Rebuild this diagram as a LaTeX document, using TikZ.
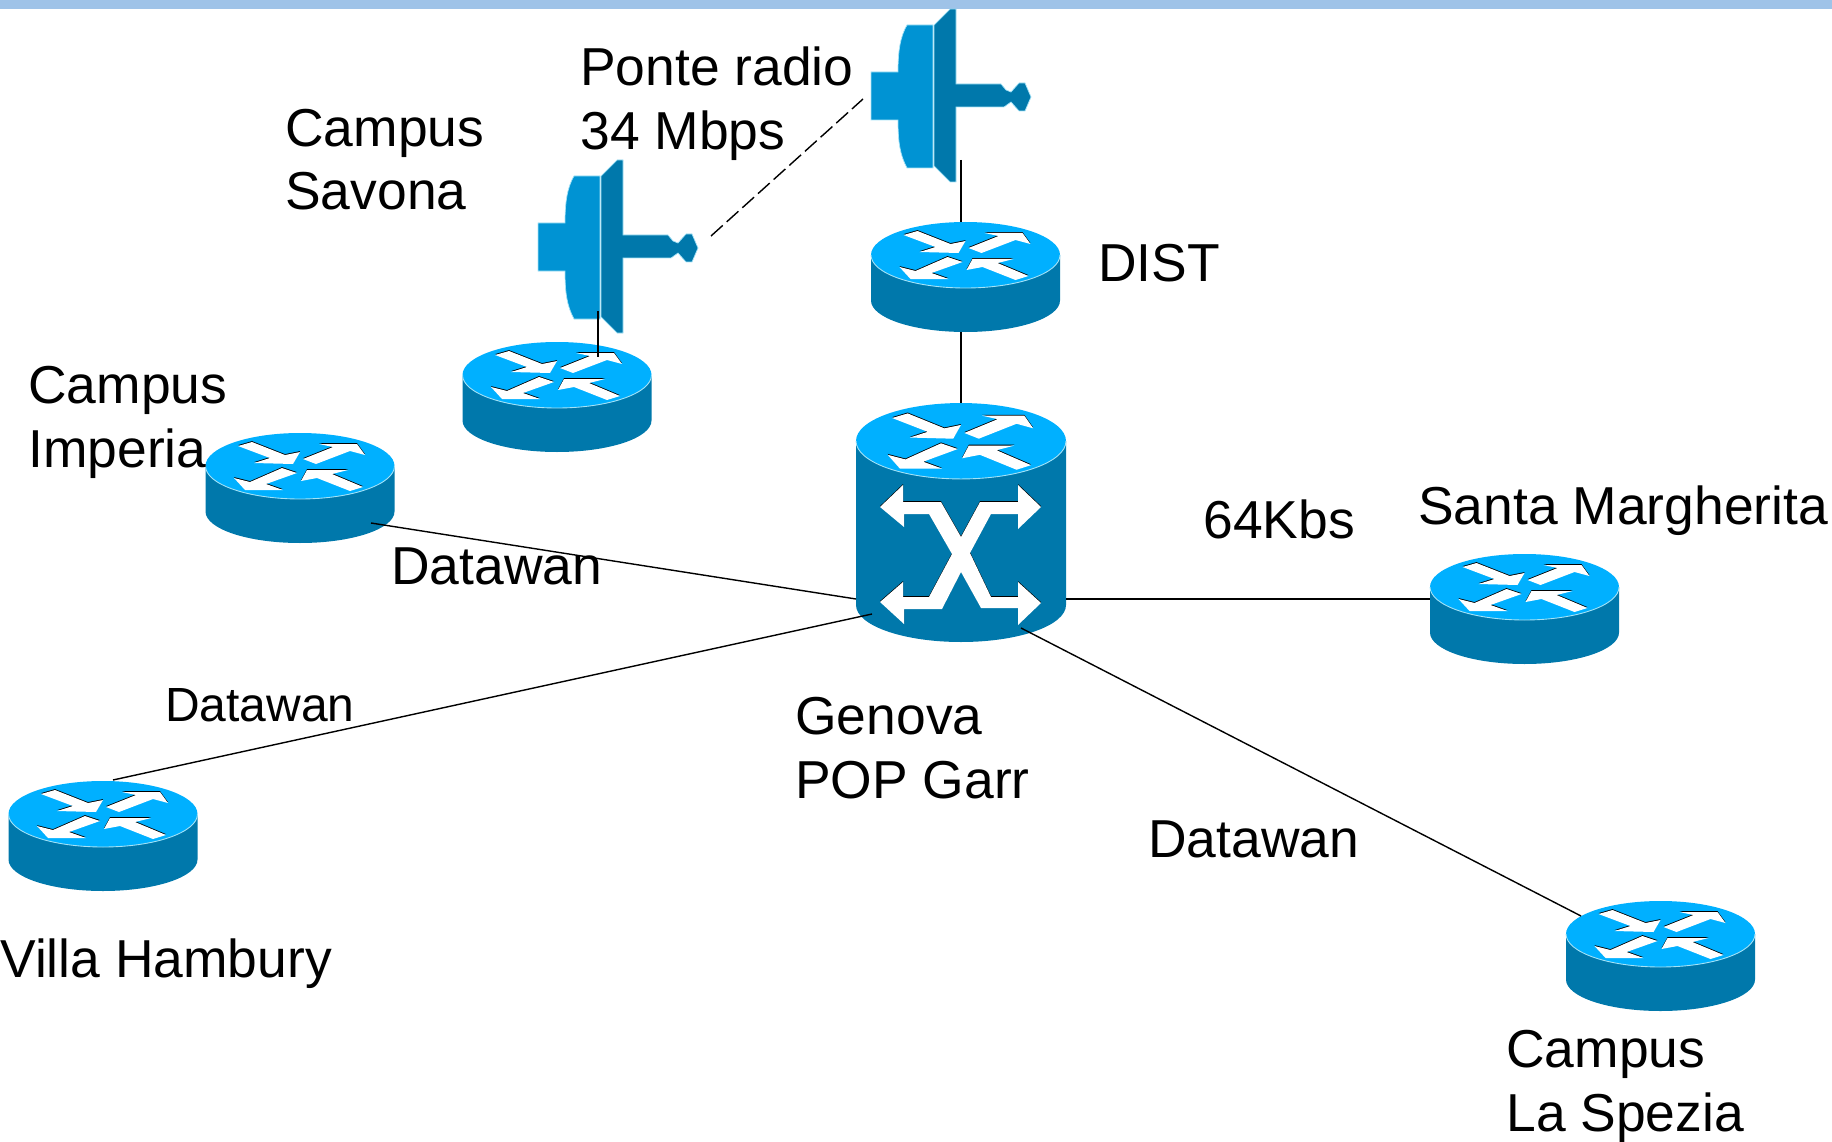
\documentclass[tikz,border=0pt]{standalone}
\usepackage{fontspec}
\setmainfont{Liberation Sans}
\definecolor{bartop}{HTML}{9FC3E8}
\definecolor{routertop}{HTML}{00B0FF}
\definecolor{routerside}{HTML}{0078AB}
\definecolor{dishlight}{HTML}{0093D3}
\definecolor{dishedge}{HTML}{A5E3F7}
\tikzset{
  whitearrow/.style={fill=white, preaction={fill=black, transform canvas={yshift=0.5pt}}},
  biglabel/.style={inner sep=0, anchor=base west, align=left, font=\fontsize{30.4}{36.4}\selectfont},
  smalllabel/.style={inner sep=0, anchor=base west, font=\fontsize{27.3}{32}\selectfont},
  link/.style={line width=0.8pt},
  radiolink/.style={line width=0.8pt, dash pattern=on 9pt off 3pt},
  topdisc/.pic={
    \fill[routertop] (0,0) ellipse [x radius=94.5, y radius=33];
    \draw[dishedge, line width=0.5pt] (-94.5,0) arc [start angle=180, end angle=0, x radius=94.5, y radius=33];
    \path[whitearrow] (-62,-20) -- (-48,-24) -- (-15,-11) -- (0,-14) -- (-7,-2) -- (-46,-3) -- (-30,-8) -- cycle
      (3,-7) -- (33,-19) -- (19,-22) -- (57,-22) -- (65,-11) -- (50,-15) -- (16,-2) -- cycle
      (-66,12) -- (-50,16) -- (-18,2) -- (-3,7) -- (-34,18) -- (-17,24) -- (-55,24) -- cycle
      (1,15) -- (7,4) -- (48,4) -- (32,8) -- (63,21) -- (50,25) -- (17,12) -- cycle;
  },
  router/.pic={
    \fill[routerside] (-94.5,0) -- (-94.5,45.5) arc [start angle=180, end angle=0, x radius=94.5, y radius=31.5] -- (94.5,0) -- cycle;
    \pic {topdisc};
  },
  hub/.pic={
    \fill[routerside] (-105,0) -- (-105,164) arc [start angle=180, end angle=0, x radius=105, y radius=37] -- (105,0) -- cycle;
    \pic[xscale=1.111, yscale=1.15] {topdisc};
    \path[whitearrow] (-81,66) -- (-58,44) -- (-58,61) -- (-20,61) -- (0,96) -- (19,61) -- (57,61) -- (57,44) -- (80,66)
      -- (57,88) -- (57,73) -- (30,73) -- (9,112) -- (30,156) -- (57,156) -- (57,141) -- (80,162) -- (57,184) -- (57,167)
      -- (20,167) -- (0,131) -- (-19,168) -- (-57,168) -- (-57,183) -- (-81,161) -- (-58,141) -- (-58,156) -- (-32,156)
      -- (-9,113) -- (-32,73) -- (-57,73) -- (-57,86) -- cycle;
  },
  dish/.pic={
    \draw[dishedge, fill=dishlight, line width=0.4pt] (-35,-25) .. controls (-35,-45) and (-33,-60) .. (-26,-72) -- (0,-72) -- (0,71)
      -- (-26,71) .. controls (-33,58) and (-35,45) .. (-35,23) -- (-62,23) -- (-62,-25) -- cycle;
    \draw[dishedge, fill=routerside, line width=0.4pt] (1,-72) -- (17,-88) -- (23,-88) -- (23,-13) -- (68,-13) -- (73,-7) -- (78,-5)
      -- (86,-14) -- (92,-14) -- (98,0) -- (92,14) -- (86,14) -- (78,5) -- (71,10) -- (23,10) -- (23,85) -- (17,85) -- (1,69) -- cycle;
  },
}
\begin{document}
\begin{tikzpicture}[x=0.02cm, y=-0.02cm]
\useasboundingbox (0,0) rectangle (1832,1142);
\fill[bartop] (0,0) rectangle (1832,9);

\foreach \rx/\ry in {965.5/255, 557/375, 300/466, 1524.5/587, 103/814, 1660.5/934}
\pic at (\rx,\ry) {router};
\pic at (961,441) {hub};
\pic at (600,248) {dish};
\pic at (933,97) {dish};

\coordinate (upperdish) at (961,160);
\coordinate (distup) at (961,222);
\coordinate (distdown) at (961,332);
\coordinate (genovaup) at (961,403);
\coordinate (lowerdish) at (598,311);
\coordinate (savonaup) at (598,357);
\coordinate (radioleft) at (711,236);
\coordinate (radioright) at (863,99);
\coordinate (genovaimperia) at (856,599);
\coordinate (imperiaport) at (371,523);
\coordinate (genovavilla) at (872,614);
\coordinate (villaport) at (113,780);
\coordinate (genovasanta) at (1066,599);
\coordinate (santaport) at (1430,599);
\coordinate (genovaspezia) at (1021,628);
\coordinate (speziaport) at (1581,916);

\draw[link] (upperdish) -- (distup);
\draw[link] (distdown) -- (genovaup);
\draw[link] (lowerdish) -- (savonaup);
\draw[radiolink] (radioleft) -- (radioright);
\draw[link] (genovaimperia) -- (imperiaport);
\draw[link] (genovavilla) -- (villaport);
\draw[link] (genovasanta) -- (santaport);
\draw[link] (genovaspezia) -- (speziaport);

\node[biglabel] (ponte) at (580,149.5) {Ponte radio\\34 Mbps};
\node[biglabel] (savona) at (285,210) {Campus\\Savona};
\node[biglabel] (imperia) at (28,467) {Campus\\Imperia};
\node[biglabel] (dist) at (1098,281) {DIST};
\node[biglabel] (speed) at (1203,538) {64Kbs};
\node[biglabel] (santa) at (1418,524) {Santa Margherita};
\node[biglabel] (wanimperia) at (391,584) {Datawan};
\node[smalllabel] (wanvilla) at (165,721) {Datawan};
\node[biglabel] (genova) at (795,798) {Genova\\POP Garr};
\node[biglabel] (wanspezia) at (1148,857) {Datawan};
\node[biglabel] (villa) at (0,977) {Villa Hambury};
\node[biglabel] (spezia) at (1506,1131) {Campus\\La Spezia};
\end{tikzpicture}
\end{document}
